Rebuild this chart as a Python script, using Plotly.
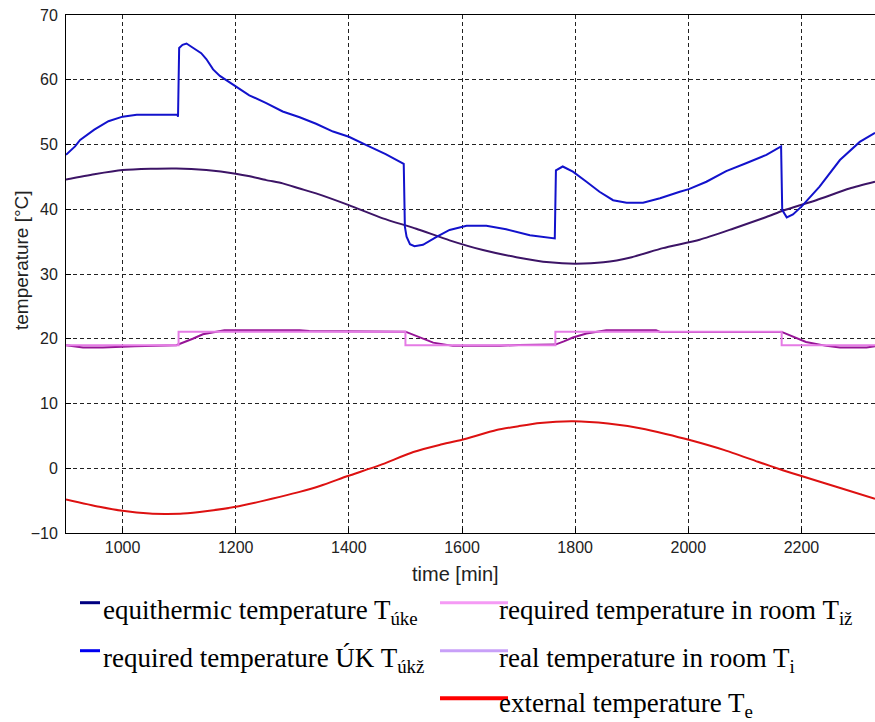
import plotly.graph_objects as go

# ---------------- data ----------------
t_ukz_x = [900, 908, 916, 925, 950, 975, 1000, 1025, 1050, 1097, 1098, 1100, 1106, 1113, 1125,
           1139, 1148, 1160, 1172, 1200, 1224, 1254, 1283, 1313, 1342, 1372, 1400, 1431, 1465,
           1497, 1499, 1502, 1508, 1516, 1531, 1555, 1578, 1608, 1643, 1678, 1720, 1764, 1766,
           1778, 1796, 1820, 1843, 1867, 1891, 1920, 1950, 1985, 2001, 2032, 2067, 2102, 2138,
           2164, 2166, 2174, 2185, 2200, 2232, 2268, 2303, 2330]
t_ukz_y = [48.4, 49.0, 49.7, 50.7, 52.3, 53.6, 54.3, 54.6, 54.6, 54.6, 54.3, 64.9, 65.4, 65.6, 64.9,
           64.1, 63.2, 61.6, 60.6, 59.0, 57.6, 56.4, 55.1, 54.2, 53.2, 52.0, 51.2, 49.9, 48.5,
           47.0, 37.3, 35.75, 34.6, 34.3, 34.5, 35.75, 36.8, 37.45, 37.45, 36.9, 36.0, 35.5, 46.0,
           46.6, 45.8, 44.25, 42.7, 41.4, 41.0, 41.0, 41.7, 42.7, 43.1, 44.25, 45.9, 47.1, 48.4,
           49.7, 39.9, 38.75, 39.2, 40.4, 43.5, 47.6, 50.4, 51.8]

t_uke_x = [900, 950, 1000, 1050, 1095, 1148, 1200, 1225, 1254, 1283, 1313, 1342, 1401, 1460, 1519,
           1578, 1637, 1696, 1755, 1800, 1850, 1900, 1955, 2020, 2079, 2138, 2168, 2226, 2285, 2330]
t_uke_y = [44.6, 45.4, 46.05, 46.25, 46.3, 46.05, 45.5, 45.1, 44.5, 44.0, 43.2, 42.45, 40.6, 38.6, 37.0,
           35.2, 33.7, 32.6, 31.8, 31.6, 31.8, 32.6, 34.0, 35.3, 37.0, 38.8, 39.8, 41.4, 43.2, 44.25]

t_iz_x = [900, 1099, 1099, 1500, 1500, 1765, 1765, 2165, 2165, 2330]
t_iz_y = [19.0, 19.0, 21.1, 21.1, 19.0, 19.0, 21.1, 21.1, 19.0, 19.0]

t_i_x = [900, 915, 930, 965, 1000, 1021, 1095, 1104, 1124, 1142, 1163, 1180, 1313, 1330, 1500,
         1520, 1549, 1584, 1667, 1700, 1765, 1780, 1796, 1820, 1846, 1855, 1943, 1950, 2165,
         2208, 2244, 2268, 2315, 2330]
t_i_y = [19.0, 18.8, 18.65, 18.65, 18.8, 18.85, 19.0, 19.3, 20.0, 20.7, 21.07, 21.3, 21.3, 21.2, 21.1,
         20.4, 19.4, 18.9, 18.9, 19.05, 19.1, 19.6, 20.2, 20.8, 21.2, 21.3, 21.3, 21.05, 21.05,
         19.5, 18.9, 18.65, 18.65, 18.85]

t_e_x = [900, 959, 1000, 1048, 1075, 1107, 1150, 1200, 1250, 1278, 1313, 1350, 1398, 1455, 1514,
         1560, 1600, 1661, 1700, 1738, 1797, 1858, 1917, 1960, 2001, 2064, 2123, 2167, 2200, 2270, 2330]
t_e_y = [-4.83, -5.96, -6.58, -7.0, -7.05, -7.0, -6.6, -5.96, -5.0, -4.42, -3.65, -2.7, -1.2, 0.48, 2.5,
         3.6, 4.4, 5.9, 6.5, 7.0, 7.25, 6.9, 6.14, 5.3, 4.4, 2.8, 1.0, -0.3, -1.2, -3.1, -4.7]

x_ticks = [1000, 1200, 1400, 1600, 1800, 2000, 2200]
y_ticks = [-10, 0, 10, 20, 30, 40, 50, 60, 70]

legend_left = ["equithermic temperature T<sub>úke</sub>",
               "required temperature ÚK T<sub>úkž</sub>"]
legend_right = ["required temperature in room T<sub>iž</sub>",
                "real temperature in room T<sub>i</sub>",
                "external temperature T<sub>e</sub>"]
legend_left_colors = ["#000080", "#0000F0"]
legend_right_colors = ["#F59AF5", "#C8A0F8", "#FF0000"]

# ---------------- layout helpers ----------------
W, H = 875, 722
L, R, T, B = 66, 875, 15, 533


def pxx(p):
    return (p - L) / (R - L)


def pxy(p):
    return (B - p) / (B - T)


fig = go.Figure()
fig.add_trace(go.Scatter(x=t_uke_x, y=t_uke_y, mode="lines", line_shape="spline",
                         line=dict(color="#3C1466", width=2, smoothing=0.6), showlegend=False))
fig.add_trace(go.Scatter(x=t_ukz_x, y=t_ukz_y, mode="lines",
                         line=dict(color="#1212CC", width=2), showlegend=False))
fig.add_trace(go.Scatter(x=t_i_x, y=t_i_y, mode="lines",
                         line=dict(color="#961496", width=2), showlegend=False))
fig.add_trace(go.Scatter(x=t_iz_x, y=t_iz_y, mode="lines",
                         line=dict(color="#E57BE5", width=2), showlegend=False))
fig.add_trace(go.Scatter(x=t_e_x, y=t_e_y, mode="lines", line_shape="spline",
                         line=dict(color="#DD1111", width=2, smoothing=0.6), showlegend=False))

axis_common = dict(
    showline=True, linecolor="black", linewidth=1,
    ticks="inside", ticklen=5, tickcolor="black",
    showgrid=True, gridcolor="#222222", gridwidth=1, griddash="4px,3px",
    zeroline=False,
    tickfont=dict(family="Liberation Sans, Arial", size=16, color="#222222"),
)

fig.update_xaxes(range=[900, 2330], tickvals=x_ticks, mirror=True, **axis_common)
fig.update_yaxes(range=[-10, 70], tickvals=y_ticks, mirror=False, ticklabelstandoff=4, **axis_common)

annotations = [
    dict(text="time [min]", x=pxx(455), y=pxy(574), xref="paper", yref="paper",
         showarrow=False, xanchor="center", yanchor="middle",
         font=dict(family="Liberation Sans, Arial", size=20, color="#222222")),
    dict(text="temperature [°C]", x=pxx(21), y=pxy(260), xref="paper", yref="paper",
         showarrow=False, xanchor="center", yanchor="middle", textangle=-90,
         font=dict(family="Liberation Sans, Arial", size=19, color="#222222")),
]
shapes = []
row_line_y = [602.7, 650.7, 698.3]
row_text_y = [612, 660, 705]
for i, (txt, col) in enumerate(zip(legend_left, legend_left_colors)):
    shapes.append(dict(type="line", xref="paper", yref="paper",
                       x0=pxx(80), x1=pxx(100), y0=pxy(row_line_y[i]), y1=pxy(row_line_y[i]),
                       line=dict(color=col, width=3)))
    annotations.append(dict(text=txt, x=pxx(101), y=pxy(row_text_y[i]), xref="paper", yref="paper",
                            showarrow=False, xanchor="left", yanchor="middle",
                            font=dict(family="Liberation Serif, Times New Roman", size=27, color="black")))
for i, (txt, col) in enumerate(zip(legend_right, legend_right_colors)):
    shapes.append(dict(type="line", xref="paper", yref="paper",
                       x0=pxx(440), x1=pxx(508), y0=pxy(row_line_y[i]), y1=pxy(row_line_y[i]),
                       line=dict(color=col, width=4 if i == 2 else 3)))
    annotations.append(dict(text=txt, x=pxx(497), y=pxy(row_text_y[i]), xref="paper", yref="paper",
                            showarrow=False, xanchor="left", yanchor="middle",
                            font=dict(family="Liberation Serif, Times New Roman", size=27, color="black")))

fig.update_layout(
    width=W, height=H,
    margin=dict(l=L, r=W - R, t=T, b=H - B, pad=0),
    paper_bgcolor="white", plot_bgcolor="white",
    showlegend=False,
    annotations=annotations, shapes=shapes,
)

fig.write_html("out.html", config={"displayModeBar": False},
               post_script="document.body.style.margin='0';document.body.style.overflow='hidden';")
